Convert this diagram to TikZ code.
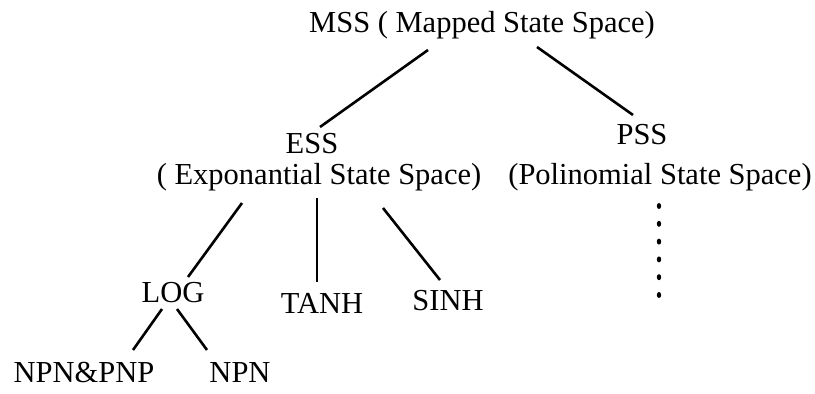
\documentclass[tikz,border=0pt]{standalone}
\usepackage{fontspec}
\setmainfont{Liberation Serif}
\usepackage{tikz}

\begin{document}
\begin{tikzpicture}[x=1pt, y=-1pt,
        lbl/.style={anchor=base, inner sep=0pt, font=\fontsize{30.5}{34}\selectfont},
        edge/.style={line width=2.6pt}]
    \useasboundingbox (0,0) rectangle (815,394);
    % tree labels
    \node[lbl] (mss) at (482,32) {MSS ( Mapped State Space)};
    \node[lbl] (ess) at (312,153) {ESS};
    \node[lbl] (essl) at (319,184) {( Exponantial State Space)};
    \node[lbl] (pss) at (642,144) {PSS};
    \node[lbl] (pssl) at (660,184) {(Polinomial State Space)};
    \node[lbl] (log) at (173,302) {LOG};
    \node[lbl] (tanh) at (322,313) {TANH};
    \node[lbl] (sinh) at (448,310) {SINH};
    \node[lbl] (npnpnp) at (84,382) {NPN\&PNP};
    \node[lbl] (npn) at (240,382) {NPN};
    % branches
    \draw[edge] ([shift={(-54,18)}]mss.base) -- ([shift={(8,-26)}]ess.base);
    \draw[edge] ([shift={(55,15)}]mss.base) -- ([shift={(-9,-29)}]pss.base);
    \draw[edge] ([shift={(-77,19)}]essl.base) -- ([shift={(15,-25)}]log.base);
    \draw[edge] ([shift={(-2,14)}]essl.base) -- ([shift={(-5,-31)}]tanh.base);
    \draw[edge] ([shift={(64,24)}]essl.base) -- ([shift={(-8,-30)}]sinh.base);
    \draw[edge] ([shift={(-11,7)}]log.base) -- ([shift={(49,-32)}]npnpnp.base);
    \draw[edge] ([shift={(4,7)}]log.base) -- ([shift={(-33,-32)}]npn.base);
    % dots under PSS
    \foreach \k in {0,...,5}
        \fill ([shift={(-1,22+17.8*\k)}]pssl.base) ellipse [x radius=2.2, y radius=3];
\end{tikzpicture}
\end{document}
